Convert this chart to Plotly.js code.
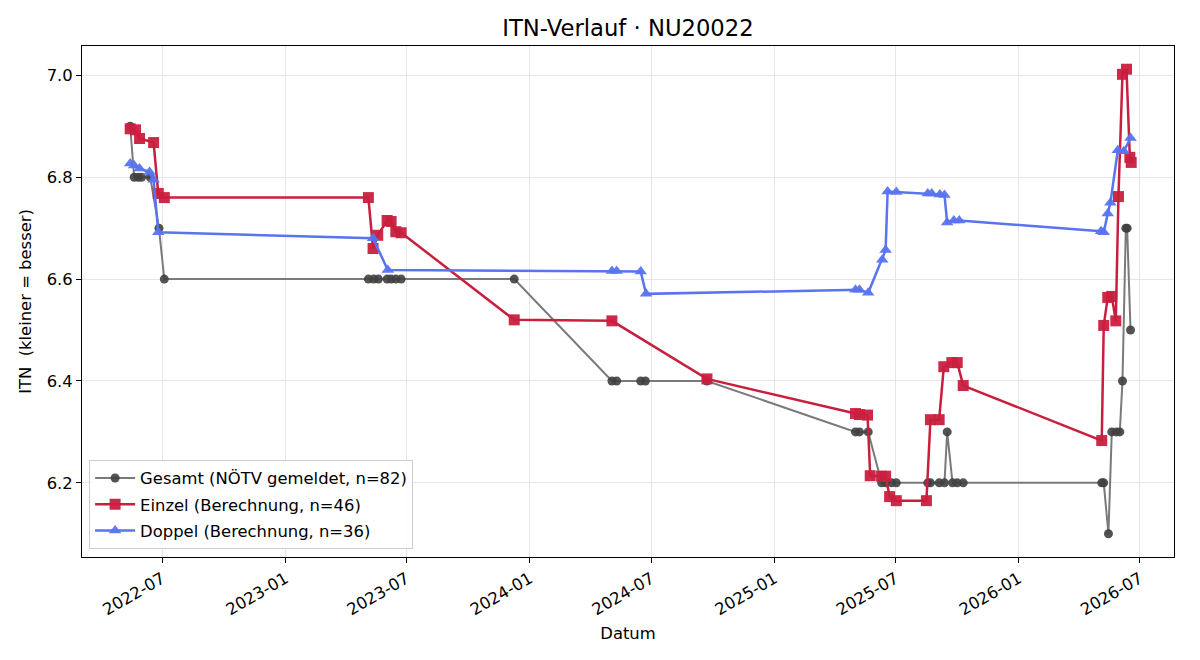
<!DOCTYPE html>
<html>
<head>
<meta charset="utf-8">
<script src="https://cdn.plot.ly/plotly-3.0.1.min.js"></script>
<style>
  html, body { margin: 0; padding: 0; background: #fff; }
  #chart { width: 1200px; height: 660px; }
</style>
</head>
<body>
<div id="chart"></div>
<script>
// ITN history for player NU20022

// Overall ITN as reported by the federation (NÖTV)
const gesamtDates = [
  '2022-05-14','2022-05-20','2022-05-26','2022-05-31','2022-06-13','2022-06-26','2022-07-04',
  '2023-05-05','2023-05-13','2023-05-20','2023-06-02','2023-06-08','2023-06-15','2023-06-23',
  '2023-12-09',
  '2024-05-03','2024-05-10','2024-06-15','2024-06-22','2024-09-22',
  '2025-05-02','2025-05-08','2025-05-21','2025-06-10','2025-06-16','2025-06-25','2025-07-02',
  '2025-08-18','2025-08-22','2025-09-04','2025-09-12','2025-09-16','2025-09-24','2025-10-01','2025-10-10',
  '2026-05-05','2026-05-08','2026-05-15','2026-05-20','2026-05-27','2026-06-01','2026-06-05','2026-06-10','2026-06-12','2026-06-17'
];
const gesamtValues = [
  6.9, 6.8, 6.8, 6.8, 6.8, 6.7, 6.6,
  6.6, 6.6, 6.6, 6.6, 6.6, 6.6, 6.6,
  6.6,
  6.4, 6.4, 6.4, 6.4, 6.4,
  6.3, 6.3, 6.3, 6.2, 6.2, 6.2, 6.2,
  6.2, 6.2, 6.2, 6.2, 6.3, 6.2, 6.2, 6.2,
  6.2, 6.2, 6.1, 6.3, 6.3, 6.3, 6.4, 6.7, 6.7, 6.5
];

// Singles ITN (computed)
const einzelDates = [
  '2022-05-14','2022-05-22','2022-05-28','2022-06-18','2022-06-25','2022-07-04',
  '2023-05-05','2023-05-12','2023-05-19','2023-06-02','2023-06-08','2023-06-15','2023-06-23',
  '2023-12-09','2024-05-03','2024-09-22',
  '2025-05-02','2025-05-08','2025-05-20','2025-05-24','2025-06-10','2025-06-16','2025-06-22','2025-07-02',
  '2025-08-16','2025-08-22','2025-09-04','2025-09-11','2025-09-23','2025-10-01','2025-10-10',
  '2026-05-05','2026-05-08','2026-05-14','2026-05-20','2026-05-26','2026-05-30','2026-06-05','2026-06-11','2026-06-16','2026-06-18'
];
const einzelValues = [
  6.895, 6.893, 6.876, 6.868, 6.768, 6.760,
  6.760, 6.660, 6.686, 6.715, 6.713, 6.693, 6.691,
  6.520, 6.518, 6.404,
  6.336, 6.334, 6.333, 6.214, 6.213, 6.213, 6.173, 6.165,
  6.165, 6.324, 6.324, 6.428, 6.436, 6.436, 6.391,
  6.283, 6.509, 6.564, 6.566, 6.518, 6.762, 7.002, 7.012, 6.839, 6.829
];

// Doubles ITN (computed)
const doppelDates = [
  '2022-05-14','2022-05-20','2022-05-28','2022-06-12','2022-06-18','2022-06-25',
  '2023-05-12','2023-06-03',
  '2024-05-03','2024-05-10','2024-06-15','2024-06-23',
  '2025-05-02','2025-05-08','2025-05-21','2025-06-11','2025-06-16','2025-06-19','2025-07-02',
  '2025-08-18','2025-08-24','2025-09-05','2025-09-12','2025-09-16','2025-09-26','2025-10-04',
  '2026-05-04','2026-05-08','2026-05-14','2026-05-18','2026-05-29','2026-06-07','2026-06-17'
];
const doppelValues = [
  6.827, 6.823, 6.817, 6.810, 6.795, 6.692,
  6.680, 6.618,
  6.616, 6.616, 6.615, 6.571,
  6.579, 6.579, 6.573, 6.638, 6.657, 6.772, 6.771,
  6.768, 6.768, 6.766, 6.765, 6.711, 6.715, 6.715,
  6.694, 6.692, 6.729, 6.750, 6.853, 6.851, 6.877
];

const seriesNames = [
  'Gesamt (NÖTV gemeldet, n=82)',
  'Einzel (Berechnung, n=46)',
  'Doppel (Berechnung, n=36)'
];

const FONT = '"DejaVu Sans", "Liberation Sans", sans-serif';
const BASE = 16.4;

const traces = [
  {
    x: gesamtDates, y: gesamtValues, name: seriesNames[0], legendgroup: 'g',
    type: 'scatter', mode: 'lines+markers',
    line: { color: '#7a7a7a', width: 2 },
    marker: { symbol: 'circle', size: 9, color: '#404040', opacity: 0.9 }
  },
  {
    x: einzelDates, y: einzelValues, name: seriesNames[1], legendgroup: 'e',
    type: 'scatter', mode: 'lines+markers',
    line: { color: '#c91f3e', width: 2.5 },
    marker: { symbol: 'square', size: 11, color: '#c91f3e', opacity: 0.95 }
  },
  {
    x: doppelDates, y: doppelValues, name: seriesNames[2], legendgroup: 'd',
    type: 'scatter', mode: 'lines+markers',
    line: { color: '#5874ef', width: 2.5 },
    marker: { symbol: 'triangle-up', size: 11, color: '#5874ef', opacity: 0.95 }
  }
];

const layout = {
  width: 1200, height: 660,
  margin: { l: 82, r: 26, t: 46, b: 103 },
  paper_bgcolor: '#ffffff', plot_bgcolor: '#ffffff',
  font: { family: FONT, size: BASE, color: '#000' },
  title: {
    text: 'ITN-Verlauf · NU20022',
    font: { family: FONT, size: 22.7, color: '#000' },
    x: 0.5, xref: 'paper', xanchor: 'center',
    y: 1 - 28 / 660, yref: 'container', yanchor: 'middle'
  },
  xaxis: {
    type: 'date',
    range: ['2022-03-03', '2026-08-21'],
    tick0: '2022-01-01', dtick: 'M6', tickformat: '%Y-%m',
    tickangle: -30,
    ticks: 'outside', ticklen: 5, tickwidth: 1, tickcolor: '#000',
    showgrid: true, gridcolor: '#e6e6e6', gridwidth: 1,
    showline: true, linecolor: '#000', linewidth: 1, mirror: true,
    zeroline: false,
    tickfont: { family: FONT, size: BASE, color: '#000' },
    title: { text: 'Datum', font: { family: FONT, size: BASE, color: '#000' }, standoff: 9 },
    automargin: false
  },
  yaxis: {
    range: [6.0544, 7.0576],
    tick0: 6.2, dtick: 0.2, tickformat: '.1f',
    ticks: 'outside', ticklen: 5, tickwidth: 1, tickcolor: '#000',
    showgrid: true, gridcolor: '#e6e6e6', gridwidth: 1,
    showline: true, linecolor: '#000', linewidth: 1, mirror: true,
    zeroline: false,
    tickfont: { family: FONT, size: BASE, color: '#000' },
    title: { text: 'ITN\u00a0 (kleiner = besser)', font: { family: FONT, size: BASE, color: '#000' }, standoff: 10 },
    automargin: false
  },
  showlegend: true,
  legend: {
    x: 0.0065, y: 0.016, xanchor: 'left', yanchor: 'bottom',
    bgcolor: 'rgba(255,255,255,0.85)', bordercolor: '#cccccc', borderwidth: 1,
    font: { family: FONT, size: BASE, color: '#000' },
    itemwidth: 40,
    tracegroupgap: 2
  }
};

Plotly.newPlot('chart', traces, layout, { displayModeBar: false, responsive: false });
</script>
</body>
</html>
